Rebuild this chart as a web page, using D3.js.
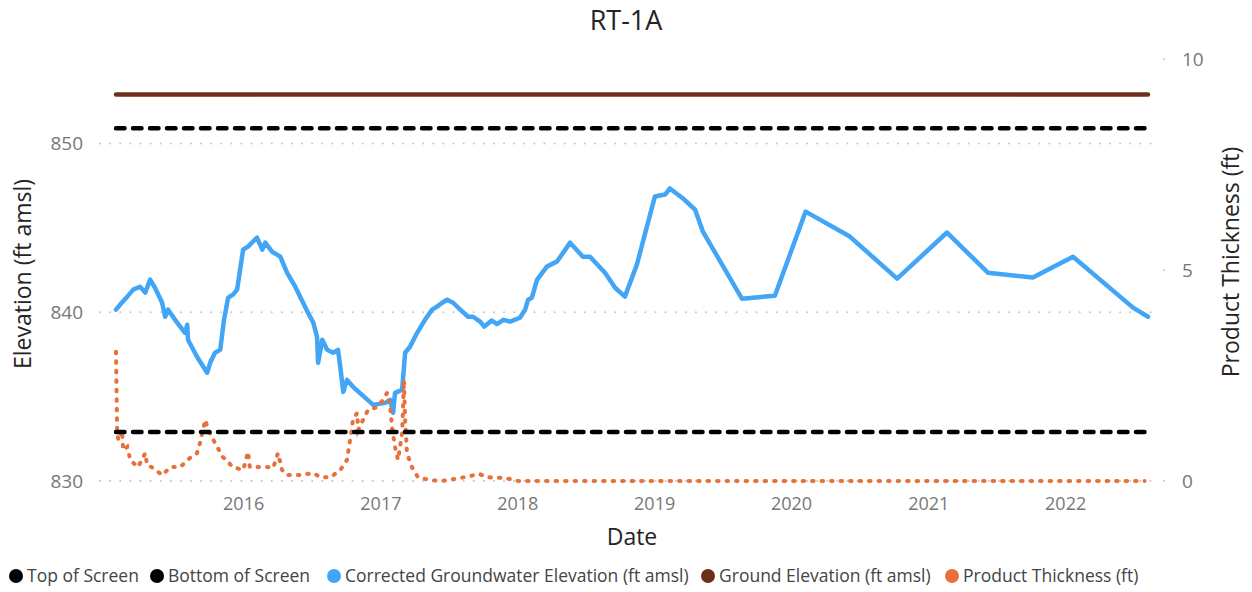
<!DOCTYPE html>
<html>
<head>
<meta charset="utf-8">
<script src="https://cdn.jsdelivr.net/npm/d3@7"></script>
<style>
  html, body { margin: 0; padding: 0; background: #fff; }
  svg { display: block; font-family: "Open Sans", "Segoe UI", sans-serif; }
</style>
</head>
<body>
<svg id="chart" width="1252" height="592"></svg>
<script>
// ---------- DATA ----------
const chartTitle = "RT-1A";
const leftTicks = [830, 840, 850];
const rightTicks = [0, 5, 10];

const topOfScreen = 850.9;
const bottomOfScreen = 832.9;
const groundElevation = 852.9;

const gwDates = ["2015-01-27","2015-02-07","2015-02-26","2015-03-14","2015-04-01","2015-04-15","2015-04-28","2015-05-11","2015-05-30","2015-06-07","2015-06-15","2015-07-09","2015-07-30","2015-08-05","2015-08-07","2015-08-31","2015-09-27","2015-10-05","2015-10-18","2015-11-01","2015-11-11","2015-11-22","2015-12-05","2015-12-16","2016-01-01","2016-01-14","2016-02-07","2016-02-21","2016-02-29","2016-03-18","2016-04-09","2016-04-27","2016-05-19","2016-06-01","2016-06-22","2016-07-06","2016-07-16","2016-07-19","2016-07-30","2016-08-12","2016-08-28","2016-09-10","2016-09-16","2016-09-24","2016-10-04","2016-10-20","2016-11-13","2016-12-13","2017-01-14","2017-01-27","2017-02-04","2017-02-09","2017-02-28","2017-03-08","2017-03-21","2017-04-09","2017-04-30","2017-05-19","2017-06-01","2017-06-15","2017-06-28","2017-07-14","2017-08-02","2017-08-23","2017-09-05","2017-09-24","2017-10-05","2017-10-25","2017-11-08","2017-11-25","2017-12-13","2018-01-08","2018-01-22","2018-01-30","2018-02-09","2018-02-23","2018-03-21","2018-04-17","2018-05-22","2018-06-25","2018-07-14","2018-08-23","2018-09-19","2018-10-15","2018-11-16","2019-01-03","2019-01-30","2019-02-12","2019-03-19","2019-04-20","2019-05-11","2019-08-23","2019-11-19","2020-02-09","2020-06-06","2020-10-10","2021-02-20","2021-06-09","2021-10-07","2022-01-22","2022-07-01","2022-08-10"];
const gwValues = [840.15,840.45,840.92,841.34,841.51,841.16,841.93,841.45,840.56,839.73,840.15,839.38,838.78,839.26,838.37,837.36,836.41,837.00,837.60,837.77,839.55,840.86,841.04,841.34,843.71,843.89,844.42,843.71,844.12,843.59,843.29,842.34,841.51,840.92,839.97,839.38,838.55,837.00,838.37,837.77,837.60,837.77,836.77,835.28,835.99,835.58,835.10,834.51,834.63,834.81,834.04,835.22,835.40,837.60,837.95,838.78,839.55,840.15,840.33,840.56,840.74,840.56,840.15,839.73,839.73,839.44,839.15,839.50,839.30,839.55,839.44,839.67,840.15,840.74,840.86,841.93,842.70,843.00,844.12,843.29,843.29,842.34,841.45,840.92,842.82,846.85,846.97,847.33,846.74,846.08,844.78,840.80,840.98,845.96,844.48,841.99,844.72,842.34,842.05,843.29,840.27,839.73];

const ptDates = ["2015-01-27","2015-01-30","2015-02-02","2015-02-12","2015-02-15","2015-02-26","2015-03-06","2015-03-14","2015-03-27","2015-04-15","2015-04-20","2015-05-06","2015-05-30","2015-06-21","2015-07-17","2015-08-13","2015-08-31","2015-09-08","2015-09-22","2015-09-30","2015-10-18","2015-11-08","2015-12-05","2016-01-01","2016-01-14","2016-01-19","2016-02-07","2016-03-05","2016-03-21","2016-04-03","2016-04-14","2016-04-27","2016-06-01","2016-07-06","2016-07-25","2016-08-21","2016-09-16","2016-10-04","2016-10-12","2016-10-20","2016-10-31","2016-11-03","2016-11-16","2016-11-29","2016-12-23","2017-01-08","2017-01-19","2017-01-27","2017-02-01","2017-02-09","2017-02-17","2017-02-28","2017-03-05","2017-03-08","2017-03-13","2017-03-26","2017-04-11","2017-05-14","2017-06-15","2017-08-02","2017-08-29","2017-09-22","2017-10-10","2017-11-30","2018-01-04","2022-08-01"];
const ptValues = [3.06,1.21,0.97,1.21,0.73,0.81,0.50,0.43,0.33,0.66,0.38,0.31,0.14,0.33,0.33,0.55,0.66,0.90,1.45,1.21,0.90,0.57,0.33,0.26,0.69,0.33,0.33,0.33,0.31,0.66,0.26,0.14,0.14,0.19,0.09,0.09,0.26,0.50,0.97,1.45,1.61,1.21,1.45,1.68,1.75,1.92,2.09,1.75,1.28,0.81,0.50,1.14,2.39,1.45,0.66,0.33,0.09,0.02,0.00,0.07,0.12,0.17,0.09,0.07,0.00,0.00];

const legendLabels = ["Top of Screen","Bottom of Screen","Corrected Groundwater Elevation (ft amsl)","Ground Elevation (ft amsl)","Product Thickness (ft)"];
const legendColors = ["#000000","#000000","#42A5F5","#6E2E1A","#E8703A"];

// ---------- SETUP ----------
const parse = d3.timeParse("%Y-%m-%d");
const gw = gwDates.map((d, i) => ({ date: parse(d), value: gwValues[i] }));
const pt = ptDates.map((d, i) => ({ date: parse(d), value: ptValues[i] }));

const svg = d3.select("#chart");
const plotLeft = 116, plotRight = 1148, plotTop = 59, plotBottom = 481;

const x = d3.scaleTime()
  .domain(d3.extent(gw.map(d => d.date).concat(pt.map(d => d.date))))
  .range([plotLeft, plotRight]);
const yL = d3.scaleLinear().domain([830, 855]).range([plotBottom, plotTop]);
const yR = d3.scaleLinear().domain([0, 10]).range([plotBottom, plotTop]);
const xMin = x.domain()[0], xMax = x.domain()[1];

// Title
svg.append("text").attr("x", 626).attr("y", 30).attr("text-anchor", "middle")
  .attr("font-size", 27).attr("fill", "#252423").text(chartTitle);

// Gridlines (left axis)
svg.append("g").selectAll("line").data(leftTicks).join("line")
  .attr("x1", 100).attr("x2", 1158)
  .attr("y1", d => yL(d)).attr("y2", d => yL(d))
  .attr("stroke", "#c8c8c8").attr("stroke-width", 2)
  .attr("stroke-linecap", "round").attr("stroke-dasharray", "0.1 10");

// Left axis
const leftAxis = svg.append("g").attr("transform", "translate(83,0)")
  .call(d3.axisLeft(yL).tickValues(leftTicks).tickSize(0).tickPadding(0));
leftAxis.select(".domain").remove();
leftAxis.selectAll("text").attr("font-size", 19).attr("fill", "#777").attr("font-family", "Open Sans, sans-serif");

// Right axis
const rightAxis = svg.append("g").attr("transform", "translate(1182,0)")
  .call(d3.axisRight(yR).tickValues(rightTicks).tickSize(0).tickPadding(0));
rightAxis.select(".domain").remove();
rightAxis.selectAll("text").attr("font-size", 19).attr("fill", "#777").attr("font-family", "Open Sans, sans-serif");
svg.append("g").selectAll("circle").data(rightTicks).join("circle")
  .attr("cx", 1164).attr("cy", d => yR(d)).attr("r", 1).attr("fill", "#c8c8c8");

// X axis
const xAxis = svg.append("g").attr("transform", "translate(0,494)")
  .call(d3.axisBottom(x).ticks(d3.timeYear.every(1)).tickFormat(d3.timeFormat("%Y")).tickSize(0).tickPadding(0));
xAxis.select(".domain").remove();
xAxis.selectAll("text").attr("font-size", 18).attr("fill", "#777").attr("dy", "0.9em").attr("font-family", "Open Sans, sans-serif");

// Axis titles
svg.append("text").attr("transform", "translate(31,274) rotate(-90)").attr("text-anchor", "middle")
  .attr("font-size", 23).attr("fill", "#252423").text("Elevation (ft amsl)");
svg.append("text").attr("transform", "translate(1239,262) rotate(-90)").attr("text-anchor", "middle")
  .attr("font-size", 23).attr("fill", "#252423").text("Product Thickness (ft)");
svg.append("text").attr("x", 632).attr("y", 545).attr("text-anchor", "middle")
  .attr("font-size", 23).attr("fill", "#252423").text("Date");

// Series
const gwLine = d3.line().x(d => x(d.date)).y(d => yL(d.value));
const ptLine = d3.line().x(d => x(d.date)).y(d => yR(d.value));

svg.append("path").datum(gw).attr("d", gwLine)
  .attr("fill", "none").attr("stroke", legendColors[2]).attr("stroke-width", 4.5)
  .attr("stroke-linejoin", "round").attr("stroke-linecap", "round");

svg.append("path").datum(pt).attr("d", ptLine)
  .attr("fill", "none").attr("stroke", legendColors[4]).attr("stroke-width", 4)
  .attr("stroke-linecap", "round").attr("stroke-dasharray", "1.5 8");

function hLine(val, color, dash) {
  const p = svg.append("path").datum([{ date: xMin, value: val }, { date: xMax, value: val }])
    .attr("d", gwLine).attr("fill", "none").attr("stroke", color).attr("stroke-width", 4.5)
    .attr("stroke-linecap", "round");
  if (dash) p.attr("stroke-dasharray", dash);
}
hLine(topOfScreen, legendColors[0], "8.5 8.5");
hLine(bottomOfScreen, legendColors[1], "8.5 8.5");
hLine(groundElevation, legendColors[3], null);

// Legend
const legendX = [16, 157, 334, 708, 952];
const lg = svg.append("g").selectAll("g").data(legendLabels).join("g")
  .attr("transform", (d, i) => `translate(${legendX[i]},576)`);
lg.append("circle").attr("r", 7).attr("fill", (d, i) => legendColors[i]);
lg.append("text").attr("x", 11).attr("dy", "0.35em").attr("font-size", 17.5)
  .attr("fill", "#444").text(d => d);
</script>
</body>
</html>
